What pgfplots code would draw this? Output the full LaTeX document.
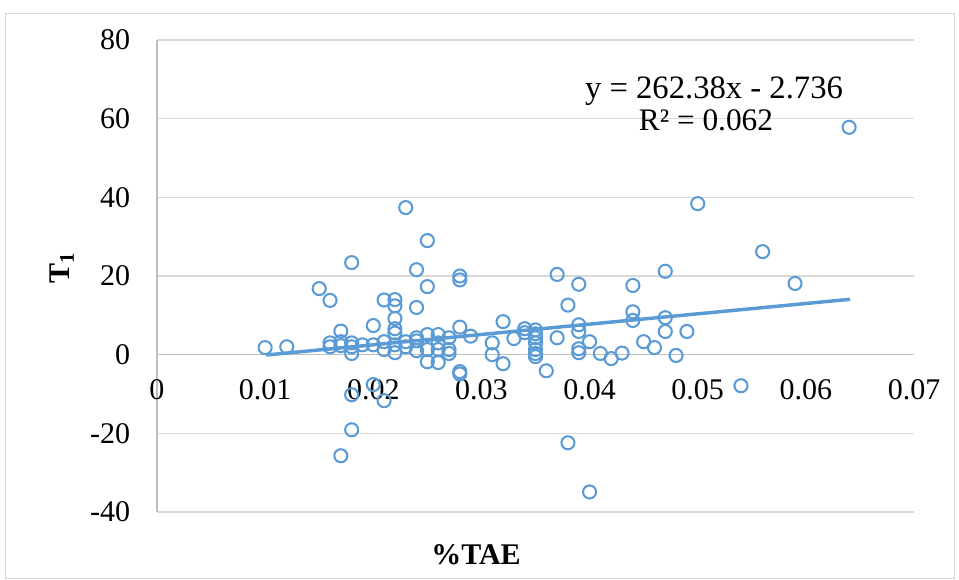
\documentclass[border=0pt]{standalone}
\usepackage{pgfplots}
\pgfplotsset{compat=1.18}
\usepackage{fontspec}
\setmainfont{Liberation Serif}
\definecolor{xlblue}{HTML}{5B9BD5}
\definecolor{gridgray}{HTML}{D9D9D9}
\definecolor{axgray}{HTML}{BFBFBF}
\begin{document}
\begin{tikzpicture}
\path[use as bounding box] (-117.75pt,-50.25pt) rectangle (601.5pt,384pt);
\draw[gridgray, line width=0.75pt] (-113.25pt,-49.5pt) rectangle (597.75pt,373.5pt);
\begin{axis}[
  scale only axis, width=567.75pt, height=354pt,
  at={(0pt,0pt)}, anchor=south west,
  xmin=0, xmax=0.07, ymin=-40, ymax=80,
  axis x line=middle, axis y line=left,
  hide obscured x ticks=false,
  scaled x ticks=false, scaled y ticks=false,
  axis line style={draw=axgray, line width=0.9pt, -},
  x axis line style={-}, y axis line style={-},
  xtick={0,0.01,0.02,0.03,0.04,0.05,0.06,0.07},
  xticklabels={0,0.01,0.02,0.03,0.04,0.05,0.06,0.07},
  ytick={-40,-20,0,20,40,60,80},
  yticklabels={-40,-20,0,20,40,60,80},
  major tick length=0pt,
  ymajorgrids, grid style={gridgray, line width=0.9pt},
  tick label style={font=\fontsize{22.5}{27}\selectfont, text=black},
  xticklabel style={anchor=center, inner sep=0pt, yshift=-26pt},
  yticklabel style={anchor=east, inner sep=0pt, xshift=-20pt},
  xlabel={\textbf{\%TAE}},
  ylabel={\textbf{T\textsubscript{1}}},
  xlabel style={at={(axis description cs:0.4214,-0.0911)}, anchor=center, font=\fontsize{22.5}{27}\selectfont},
  ylabel style={at={(axis description cs:-0.1255,0.517)}, anchor=center, rotate=0, font=\fontsize{22.5}{27}\selectfont},
  clip=false,
]
\addplot[only marks, mark=o, mark size=4.9pt, mark options={draw=xlblue, line width=1.55pt}] coordinates {
(0.010,1.8) (0.012,2.0) (0.015,16.8) (0.016,13.8) (0.016,3.0) (0.016,2.0)
(0.017,6.0) (0.017,3.3) (0.017,2.3) (0.017,-25.7)
(0.018,23.4) (0.018,3.0) (0.018,2.0) (0.018,0.3) (0.018,-10.2) (0.018,-19.1)
(0.019,2.5) (0.020,7.4) (0.020,2.5) (0.020,-7.6)
(0.021,13.9) (0.021,3.3) (0.021,1.3) (0.021,-11.7)
(0.022,14.0) (0.022,12.4) (0.022,9.2) (0.022,6.6) (0.022,5.5) (0.022,2.5) (0.022,0.5)
(0.023,37.4) (0.023,3.3) (0.023,2.0)
(0.024,21.6) (0.024,12.0) (0.024,4.3) (0.024,3.5) (0.024,1.0)
(0.025,29.0) (0.025,17.3) (0.025,5.1) (0.025,1.3) (0.025,-1.8)
(0.026,5.1) (0.026,3.0) (0.026,1.3) (0.026,-2.0)
(0.027,4.3) (0.027,1.3) (0.027,0.3)
(0.028,20.0) (0.028,19.0) (0.028,7.0) (0.028,-4.3) (0.028,-4.9)
(0.029,4.7) (0.031,3.0) (0.031,0.0) (0.032,8.4) (0.032,-2.3) (0.033,4.1)
(0.034,6.6) (0.034,5.6)
(0.035,6.3) (0.035,5.3) (0.035,4.3) (0.035,3.0) (0.035,1.3) (0.035,0.3) (0.035,-0.5)
(0.036,-4.1) (0.037,20.4) (0.037,4.3) (0.038,12.6) (0.038,-22.4)
(0.039,17.9) (0.039,7.6) (0.039,5.9) (0.039,1.5) (0.039,0.5)
(0.040,3.3) (0.040,-34.9) (0.041,0.3) (0.042,-1.0) (0.043,0.4)
(0.044,17.6) (0.044,10.9) (0.044,8.7) (0.045,3.3) (0.046,1.8)
(0.047,21.2) (0.047,9.4) (0.047,5.9) (0.048,-0.2) (0.049,5.9)
(0.050,38.4) (0.054,-7.9) (0.056,26.2) (0.059,18.1) (0.064,57.8)
};
\addplot[xlblue, line width=2.6pt, no marks] coordinates {(0.0101,-0.086) (0.0641,14.082)};
\node[anchor=center, font=\fontsize{24.5}{28}\selectfont] at (axis description cs:0.7358,0.8925) {y = 262.38x - 2.736};
\node[anchor=center, font=\fontsize{23.5}{28}\selectfont] at (axis description cs:0.7252,0.8305) {R² = 0.062};
\end{axis}
\end{tikzpicture}
\end{document}
